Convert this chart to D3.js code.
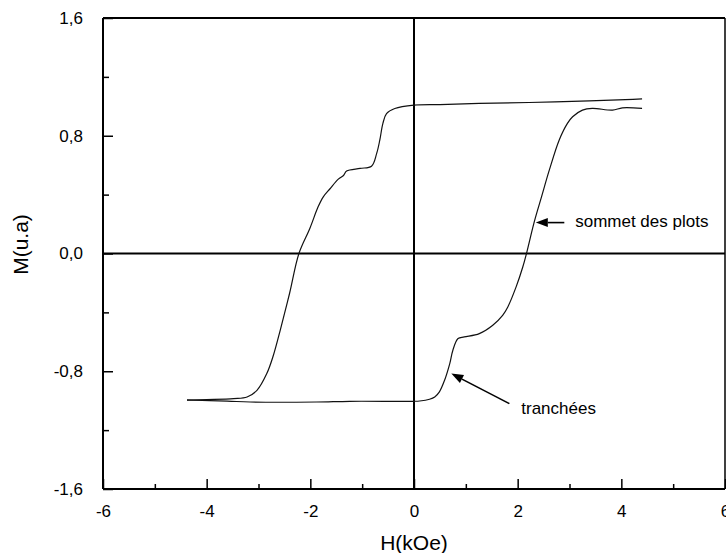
<!DOCTYPE html>
<html>
<head>
<meta charset="utf-8">
<script src="https://cdn.jsdelivr.net/npm/d3@7"></script>
<style>
  html, body { margin: 0; padding: 0; background: #ffffff; }
  svg { display: block; }
  text { font-family: "Liberation Sans", Arial, sans-serif; fill: #000; }
</style>
</head>
<body>
<svg id="chart" width="726" height="553"></svg>
<script>
// ---- data ----
const xMajorTicks = [-6, -4, -2, 0, 2, 4, 6];
const xMinorTicks = [-5, -3, -1, 1, 3, 5];
const yMajorTicks = [-1.6, -0.8, 0.0, 0.8, 1.6];
const yMinorTicks = [-1.2, -0.4, 0.4, 1.2];

// descending-field branch (H from +4.4 to -4.4)
const upperH = [4.40, 4.08, 3.38, 2.22, 1.26, 0.50, 0.00, -0.37, -0.53, -0.60, -0.66, -0.72, -0.82, -1.04, -1.30, -1.36, -1.46, -1.62, -1.75, -1.85, -2.01, -2.22, -2.40, -2.58, -2.72, -2.84, -3.03, -3.22, -3.48, -4.00, -4.38];
const upperM = [1.051, 1.045, 1.037, 1.026, 1.020, 1.012, 1.008, 0.985, 0.950, 0.884, 0.770, 0.680, 0.593, 0.578, 0.560, 0.530, 0.505, 0.440, 0.385, 0.317, 0.170, 0.000, -0.270, -0.520, -0.700, -0.816, -0.930, -0.975, -0.986, -0.993, -0.997];

// ascending-field branch (H from -4.4 to +4.4)
const lowerH = [-4.38, -3.60, -3.16, -1.88, -1.24, 0.00, 0.11, 0.30, 0.40, 0.49, 0.59, 0.69, 0.75, 0.85, 0.97, 1.26, 1.52, 1.71, 1.81, 1.97, 2.10, 2.17, 2.32, 2.46, 2.61, 2.80, 2.96, 3.06, 3.25, 3.44, 3.83, 4.02, 4.40];
const lowerM = [-0.995, -1.003, -1.009, -1.009, -1.004, -1.004, -1.002, -0.990, -0.975, -0.940, -0.861, -0.748, -0.657, -0.578, -0.567, -0.544, -0.487, -0.420, -0.363, -0.227, -0.090, 0.000, 0.215, 0.385, 0.566, 0.770, 0.884, 0.929, 0.974, 0.986, 0.974, 0.990, 0.986];

const xLabel = "H(kOe)";
const yLabel = "M(u.a)";
const annotTexts = ["sommet des plots", "tranchées"];
const annotTip  = [[2.35, 0.21], [0.72, -0.816]];
const annotTail = [[2.90, 0.21], [1.84, -1.02]];
const annotPos  = [[3.11, 0.21], [2.07, -1.058]];

// ---- layout ----
const svg = d3.select("#chart");
const x = d3.scaleLinear().domain([-6, 6]).range([103, 725]);
const y = d3.scaleLinear().domain([-1.6, 1.6]).range([489, 18]);
const fmt = v => d3.format(".1f")(v).replace(".", ",").replace("−", "-");

// frame
const g = svg.append("g");
g.append("line").attr("x1", x(-6)).attr("x2", x(6)).attr("y1", y(1.6)).attr("y2", y(1.6))
  .attr("stroke", "#000").attr("stroke-width", 2);
g.append("line").attr("x1", x(6)).attr("x2", x(6)).attr("y1", y(1.6)).attr("y2", y(-1.6))
  .attr("stroke", "#000").attr("stroke-width", 1.5);

// zero lines
g.append("line").attr("x1", x(-6)).attr("x2", x(6)).attr("y1", y(0)).attr("y2", y(0))
  .attr("stroke", "#000").attr("stroke-width", 2);
g.append("line").attr("x1", x(0)).attr("x2", x(0)).attr("y1", y(1.6)).attr("y2", y(-1.6))
  .attr("stroke", "#000").attr("stroke-width", 2);

// x axis
const xAxisMajor = d3.axisBottom(x).tickValues(xMajorTicks).tickSize(-10).tickPadding(16)
  .tickFormat(d => d3.format("d")(d).replace("−", "-"));
const xAxisMinor = d3.axisBottom(x).tickValues(xMinorTicks).tickSize(-5).tickFormat("");
const gx = svg.append("g").attr("transform", `translate(0,${y(-1.6)})`).call(xAxisMajor);
const gx2 = svg.append("g").attr("transform", `translate(0,${y(-1.6)})`).call(xAxisMinor);
[gx, gx2].forEach(a => {
  a.select(".domain").attr("stroke", "#000").attr("stroke-width", 2).attr("d", `M${x(-6)},0H${x(6)}`);
  a.selectAll(".tick line").attr("stroke", "#000").attr("stroke-width", 1.5);
});
gx.selectAll(".tick text").attr("font-size", 17).attr("font-family", "Liberation Sans, Arial, sans-serif").attr("fill", "#000");

// y axis
const yAxisMajor = d3.axisLeft(y).tickValues(yMajorTicks).tickSize(-10).tickPadding(20).tickFormat(fmt);
const yAxisMinor = d3.axisLeft(y).tickValues(yMinorTicks).tickSize(-6).tickFormat("");
const gy = svg.append("g").attr("transform", `translate(${x(-6)},0)`).call(yAxisMajor);
const gy2 = svg.append("g").attr("transform", `translate(${x(-6)},0)`).call(yAxisMinor);
[gy, gy2].forEach(a => {
  a.select(".domain").attr("stroke", "#000").attr("stroke-width", 2).attr("d", `M0,${y(1.6)}V${y(-1.6)}`);
  a.selectAll(".tick line").attr("stroke", "#000").attr("stroke-width", 1.5);
});
gy.selectAll(".tick text").attr("font-size", 17).attr("font-family", "Liberation Sans, Arial, sans-serif").attr("fill", "#000");

// axis titles
svg.append("text").attr("x", x(0)).attr("y", 550).attr("text-anchor", "middle")
  .attr("font-size", 21).text(xLabel);
svg.append("text").attr("transform", `translate(28,${(y(0) - 9)}) rotate(-90)`).attr("text-anchor", "middle")
  .attr("font-size", 21).text(yLabel);

// curves
const line = d3.line().x(d => x(d[0])).y(d => y(d[1])).curve(d3.curveCatmullRom.alpha(0.5));
const upper = upperH.map((h, i) => [h, upperM[i]]);
const lower = lowerH.map((h, i) => [h, lowerM[i]]);
svg.append("path").datum(upper).attr("d", line).attr("fill", "none").attr("stroke", "#111").attr("stroke-width", 1.2);
svg.append("path").datum(lower).attr("d", line).attr("fill", "none").attr("stroke", "#111").attr("stroke-width", 1.2);

// annotations
annotTexts.forEach((t, i) => {
  const tx = x(annotTip[i][0]), ty = y(annotTip[i][1]);
  const sx = x(annotTail[i][0]), sy = y(annotTail[i][1]);
  const ang = Math.atan2(ty - sy, tx - sx);
  const L = 12, W = 4.5;
  const bx = tx - L * Math.cos(ang), by = ty - L * Math.sin(ang);
  svg.append("line").attr("x1", sx).attr("y1", sy).attr("x2", bx).attr("y2", by)
    .attr("stroke", "#000").attr("stroke-width", 1.6);
  const p1 = [bx + W * Math.sin(ang), by - W * Math.cos(ang)];
  const p2 = [bx - W * Math.sin(ang), by + W * Math.cos(ang)];
  svg.append("path").attr("d", `M${tx},${ty}L${p1[0]},${p1[1]}L${p2[0]},${p2[1]}Z`).attr("fill", "#000");
  svg.append("text").attr("x", x(annotPos[i][0])).attr("y", y(annotPos[i][1]))
    .attr("dominant-baseline", "middle").attr("font-size", 17).text(t);
});
</script>
</body>
</html>
